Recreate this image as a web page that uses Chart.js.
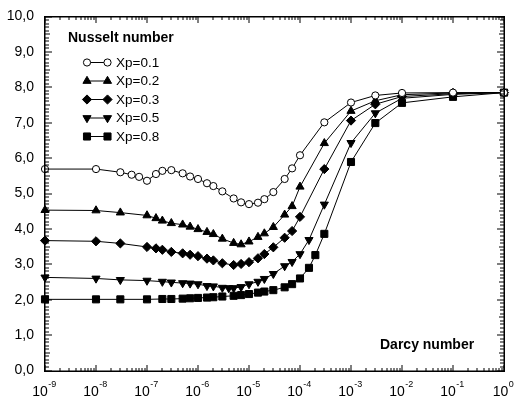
<!DOCTYPE html>
<html>
<head>
<meta charset="utf-8">
<script src="https://cdn.jsdelivr.net/npm/chart.js@4.4.0/dist/chart.umd.min.js"></script>
<style>
  html, body { margin: 0; padding: 0; background: #fff; }
  #wrap { width: 516px; height: 400px; }
</style>
</head>
<body>
<div id="wrap"><canvas id="nuChart" width="516" height="400"></canvas></div>
<script>
// Nusselt number against Darcy number, one curve per Xp
var seriesNames = ['Xp=0.1', 'Xp=0.2', 'Xp=0.3', 'Xp=0.5', 'Xp=0.8'];

var darcy01 = [1e-9, 1e-8, 3e-8, 5e-8, 7e-8, 1e-7, 1.5e-7, 2e-7, 3e-7, 5e-7, 7e-7, 1e-6, 1.5e-6, 2e-6, 3e-6, 5e-6, 7e-6,
               1e-5, 1.5e-5, 2e-5, 3e-5, 5e-5, 7e-5, 1e-4, 3e-4, 1e-3, 3e-3, 1e-2, 1e-1, 1];
var nu01 = [5.69, 5.69, 5.60, 5.53, 5.47, 5.36, 5.55, 5.64, 5.66, 5.57, 5.48, 5.41, 5.29, 5.21, 5.06, 4.86, 4.75,
            4.70, 4.74, 4.84, 5.04, 5.41, 5.71, 6.08, 7.01, 7.57, 7.77, 7.84, 7.85, 7.85];

var darcy02 = [1e-9, 1e-8, 3e-8, 1e-7, 1.5e-7, 2e-7, 3e-7, 5e-7, 7e-7, 1e-6, 1.5e-6, 2e-6, 3e-6, 5e-6, 7e-6,
               1e-5, 1.5e-5, 2e-5, 3e-5, 5e-5, 7e-5, 1e-4, 3e-4, 1e-3, 3e-3, 1e-2, 1e-1, 1];
var nu02 = [4.53, 4.52, 4.46, 4.38, 4.30, 4.23, 4.16, 4.12, 4.06, 3.99, 3.91, 3.85, 3.72, 3.60, 3.56,
            3.64, 3.77, 3.87, 4.05, 4.40, 4.64, 5.19, 6.42, 7.33, 7.62, 7.79, 7.84, 7.85];

var darcy03 = [1e-9, 1e-8, 3e-8, 1e-7, 1.5e-7, 2e-7, 3e-7, 5e-7, 7e-7, 1e-6, 1.5e-6, 2e-6, 3e-6, 5e-6, 7e-6,
               1e-5, 1.5e-5, 2e-5, 3e-5, 5e-5, 7e-5, 1e-4, 3e-4, 1e-3, 3e-3, 1e-2, 1e-1, 1];
var nu03 = [3.67, 3.65, 3.59, 3.49, 3.45, 3.41, 3.35, 3.31, 3.27, 3.23, 3.16, 3.11, 3.03, 2.98, 3.01,
            3.06, 3.17, 3.29, 3.48, 3.75, 3.94, 4.34, 5.69, 7.06, 7.52, 7.74, 7.82, 7.85];

var darcy05 = [1e-9, 1e-8, 3e-8, 1e-7, 2e-7, 3e-7, 5e-7, 7e-7, 1e-6, 1.5e-6, 2e-6, 3e-6, 4e-6, 5e-6, 7e-6,
               1e-5, 1.5e-5, 2e-5, 3e-5, 5e-5, 7e-5, 1e-4, 1.5e-4, 3e-4, 1e-3, 3e-3, 1e-2, 1e-1, 1];
var nu05 = [2.63, 2.60, 2.56, 2.54, 2.51, 2.49, 2.47, 2.46, 2.44, 2.39, 2.38, 2.34, 2.33, 2.33, 2.36,
            2.44, 2.51, 2.59, 2.73, 2.95, 3.07, 3.29, 3.69, 4.69, 6.43, 7.27, 7.69, 7.80, 7.85];

var darcy08 = [1e-9, 1e-8, 3e-8, 1e-7, 2e-7, 3e-7, 5e-7, 7e-7, 1e-6, 1.5e-6, 2e-6, 3e-6, 5e-6, 7e-6,
               1e-5, 1.5e-5, 2e-5, 3e-5, 5e-5, 7e-5, 1e-4, 1.5e-4, 2e-4, 3e-4, 1e-3, 3e-3, 1e-2, 1e-1, 1];
var nu08 = [2.01, 2.01, 2.01, 2.01, 2.02, 2.02, 2.03, 2.04, 2.05, 2.06, 2.07, 2.09, 2.11, 2.13,
            2.16, 2.20, 2.23, 2.27, 2.35, 2.44, 2.60, 2.90, 3.26, 3.86, 5.89, 6.99, 7.56, 7.73, 7.85];

var yTickValues = [0, 1, 2, 3, 4, 5, 6, 7, 8, 9, 10];
var xDecades = [-9, -8, -7, -6, -5, -4, -3, -2, -1, 0];
var yAxisTitle = 'Nusselt number';
var xAxisTitle = 'Darcy number';

var FONT = '"Liberation Sans", Arial, Helvetica, sans-serif';

var allX = [darcy01, darcy02, darcy03, darcy05, darcy08];
var allY = [nu01, nu02, nu03, nu05, nu08];

var markers = [
  { pointStyle: 'circle', radius: 3.6, rotation: 0, fill: '#ffffff' },
  { pointStyle: 'triangle', radius: 4.7, rotation: 0, fill: '#000000' },
  { pointStyle: 'rectRot', radius: 4.6, rotation: 0, fill: '#000000' },
  { pointStyle: 'triangle', radius: 4.7, rotation: 180, fill: '#000000' },
  { pointStyle: 'rect', radius: 5, rotation: 0, fill: '#000000' }
];

var datasets = seriesNames.map(function (name, i) {
  var m = markers[i];
  return {
    label: name,
    data: allX[i].map(function (x, j) { return { x: x, y: allY[i][j] }; }),
    borderColor: '#000',
    borderWidth: 1,
    tension: 0,
    fill: false,
    clip: false,
    pointStyle: m.pointStyle,
    pointRadius: m.radius,
    pointRotation: m.rotation,
    pointBackgroundColor: m.fill,
    pointBorderColor: '#000',
    pointBorderWidth: 1
  };
});

// box with inward ticks, drawn as thin filled rectangles
function drawBox(chart) {
  var ctx = chart.ctx;
  var xs = chart.scales.x, ys = chart.scales.y;
  var L = Math.round(xs.getPixelForValue(1e-9));
  var R = Math.round(xs.getPixelForValue(1));
  var T = Math.round(ys.getPixelForValue(10));
  var B = Math.round(ys.getPixelForValue(0));
  ctx.save();
  ctx.globalAlpha = 1;
  ctx.globalCompositeOperation = 'source-over';
  ctx.fillStyle = '#000000';
  ctx.fillRect(L - 1, T - 1, R - L + 2, 1.5);
  ctx.fillRect(L - 1, B - 0.5, R - L + 2, 1.5);
  ctx.fillRect(L - 1, T - 1, 1.5, B - T + 2);
  ctx.fillRect(R - 0.5, T - 1, 1.5, B - T + 2);
  for (var k = 0; k <= 100; k++) {
    var py = Math.round(ys.getPixelForValue(k / 10));
    var len = (k % 10 === 0) ? 7 : ((k % 5 === 0) ? 5 : 4);
    ctx.fillRect(L, py - 0.5, len, 1);
    ctx.fillRect(R - len, py - 0.5, len, 1);
  }
  for (var di = 0; di < xDecades.length; di++) {
    for (var mm = 1; mm <= 9; mm++) {
      if (xDecades[di] === 0 && mm > 1) break;
      var px = Math.round(xs.getPixelForValue(mm * Math.pow(10, xDecades[di])));
      var tl = (mm === 1) ? 6 : 3;
      ctx.fillRect(px - 0.5, B - tl, 1, tl);
      ctx.fillRect(px - 0.5, T, 1, tl);
    }
  }
  ctx.restore();
}

var plotFrame = {
  id: 'plotFrame',
  afterDraw: function (chart) {
    var ctx = chart.ctx;
    var xs = chart.scales.x;
    ctx.save();
    ctx.fillStyle = '#000';
    ctx.textBaseline = 'alphabetic';
    ctx.textAlign = 'left';
    // x tick labels: 10 with superscript exponent
    xDecades.forEach(function (d) {
      var cx = xs.getPixelForValue(Math.pow(10, d));
      ctx.font = '14px ' + FONT;
      var wBase = ctx.measureText('10').width;
      ctx.font = '9px ' + FONT;
      var wExp = ctx.measureText(String(d)).width;
      var x0 = cx - (wBase + wExp) / 2 - 1;
      ctx.font = '14px ' + FONT;
      ctx.fillText('10', x0, 396);
      ctx.font = '9px ' + FONT;
      ctx.fillText(String(d), x0 + wBase + 0.5, 387);
    });
    // axis titles inside the plot
    ctx.font = 'bold 14px ' + FONT;
    ctx.fillText(yAxisTitle, 68, 42);
    ctx.fillText(xAxisTitle, 380, 349);
    // legend: marker - line - marker, then label
    var rowY = [62.5, 81, 99.5, 118, 136.5];
    seriesNames.forEach(function (name, i) {
      var y = rowY[i];
      var m = markers[i];
      ctx.strokeStyle = '#000';
      ctx.lineWidth = 1;
      ctx.beginPath();
      ctx.moveTo(87, y); ctx.lineTo(107.5, y);
      ctx.stroke();
      [87, 107.5].forEach(function (mx) {
        ctx.fillStyle = m.fill;
        ctx.strokeStyle = '#000';
        Chart.helpers.drawPoint(ctx, {
          pointStyle: m.pointStyle, rotation: m.rotation,
          radius: m.radius, borderWidth: 1
        }, mx, y);
      });
      ctx.fillStyle = '#000';
      ctx.font = '13.5px ' + FONT;
      ctx.textBaseline = 'middle';
      ctx.fillText(name, 116, y + 0.5);
      ctx.textBaseline = 'alphabetic';
    });
    ctx.restore();
    drawBox(chart);
  }
};

new Chart(document.getElementById('nuChart'), {
  type: 'line',
  data: { datasets: datasets },
  options: {
    responsive: false,
    animation: false,
    events: [],
    layout: { padding: { top: 16.5, right: 12, left: 0, bottom: 0 } },
    plugins: { legend: { display: false }, tooltip: { enabled: false } },
    scales: {
      x: {
        type: 'logarithmic',
        min: 1e-9,
        max: 1,
        ticks: { display: false },
        grid: { display: false },
        border: { display: false },
        afterFit: function (s) { s.height = 29.5; }
      },
      y: {
        min: 0,
        max: 10,
        afterBuildTicks: function (s) {
          s.ticks = yTickValues.map(function (v) { return { value: v }; });
        },
        ticks: {
          padding: 3,
          color: '#000',
          font: { family: FONT, size: 14 },
          callback: function (v) { return v.toFixed(1).replace('.', ','); }
        },
        grid: { display: false },
        border: { display: false },
        afterFit: function (s) { s.width = 45; }
      }
    }
  },
  plugins: [plotFrame]
});
</script>
</body>
</html>
